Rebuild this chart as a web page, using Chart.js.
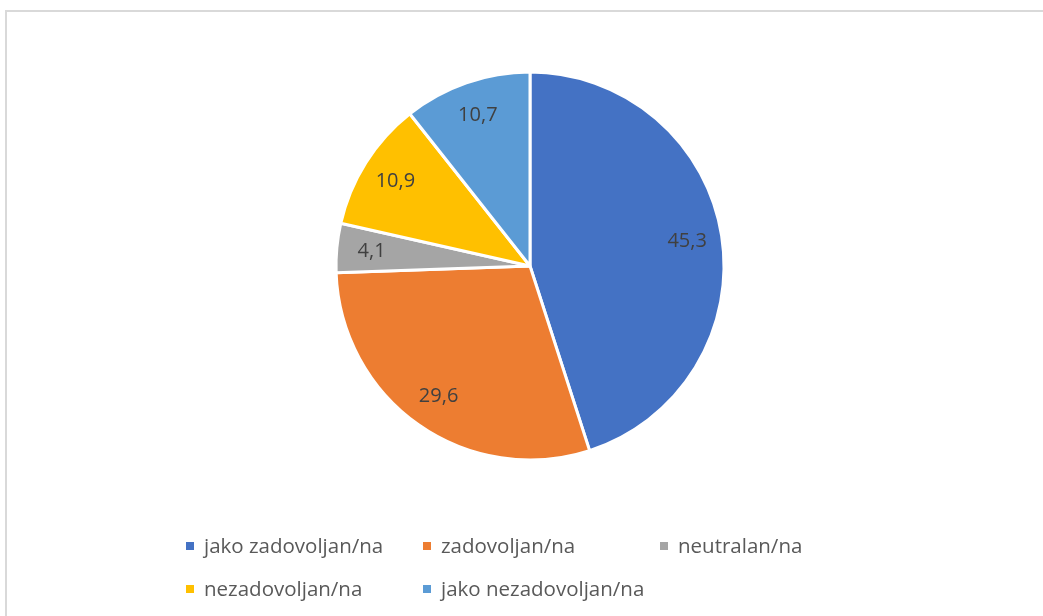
<!DOCTYPE html>
<html>
<head>
<meta charset="utf-8">
<script src="https://cdn.jsdelivr.net/npm/chart.js@4/dist/chart.umd.min.js"></script>
<style>
    html, body { margin: 0; padding: 0; background: #fff; }
    body { width: 1043px; height: 616px; position: relative; overflow: hidden; font-family: 'Open Sans', sans-serif; }
    #frame { position: absolute; left: 5px; top: 10px; width: 1100px; height: 700px; border: 2px solid #d9d9d9; box-sizing: border-box; }
    #wrap { position: absolute; left: 0; top: 0; width: 1043px; height: 532px; }
    #legend { position: absolute; left: 186px; top: 532px; display: grid; grid-template-columns: 237px 237px 237px; row-gap: 17px; }
    .item { display: flex; align-items: center; height: 26px; color: #595959; font-size: 20.5px; white-space: nowrap; }
    .box { width: 8px; height: 8px; margin-right: 10px; margin-top: 1px; }
</style>
</head>
<body>
<div id="frame"></div>
<div id="wrap"><canvas id="mainChart"></canvas></div>
<div id="legend"></div>
<script>
const LABELS = ['jako zadovoljan/na', 'zadovoljan/na', 'neutralan/na', 'nezadovoljan/na', 'jako nezadovoljan/na'];
const VALUES = [45.3, 29.6, 4.1, 10.9, 10.7];
const COLORS = ['#4472C4', '#ED7D31', '#A5A5A5', '#FFC000', '#5B9BD5'];

function main() {
    createChart(LABELS, VALUES);
    createLegend(LABELS, COLORS);
}

// labels inside the slices, decimal comma like the original
const sliceLabels = {
    id: 'sliceLabels',
    afterDatasetsDraw(chart) {
        const CTX = chart.ctx;
        const META = chart.getDatasetMeta(0);
        CTX.save();
        CTX.font = '20px "Open Sans", sans-serif';
        CTX.fillStyle = '#404040';
        CTX.textAlign = 'center';
        CTX.textBaseline = 'middle';
        META.data.forEach((arc, i) => {
            const mid = (arc.startAngle + arc.endAngle) / 2;
            const r = arc.outerRadius * 0.82;
            const x = arc.x + Math.cos(mid) * r;
            const y = arc.y + Math.sin(mid) * r;
            CTX.fillText(chart.data.datasets[0].data[i].toFixed(1).replace('.', ','), x, y);
        });
        CTX.restore();
    }
};

function createChart(labels, data) {
    const CTX = document.getElementById('mainChart').getContext('2d');
    return new Chart(CTX, {
        type: 'pie',
        data: {
            labels: labels,
            datasets: [{
                data: data,
                backgroundColor: COLORS,
                borderColor: '#ffffff',
                borderWidth: 3,
                hoverOffset: 0
            }]
        },
        options: {
            responsive: true,
            maintainAspectRatio: false,
            animation: false,
            radius: 194,
            layout: { padding: { left: 17, top: 72, bottom: 72 } },
            plugins: {
                legend: { display: false },
                tooltip: { enabled: false }
            }
        },
        plugins: [sliceLabels]
    });
}

function createLegend(labels, colors) {
    const LEGEND = document.getElementById('legend');
    labels.forEach((label, i) => {
        const item = document.createElement('div');
        item.className = 'item';
        const box = document.createElement('span');
        box.className = 'box';
        box.style.background = colors[i];
        item.appendChild(box);
        item.appendChild(document.createTextNode(label));
        LEGEND.appendChild(item);
    });
}

main();
</script>
</body>
</html>
